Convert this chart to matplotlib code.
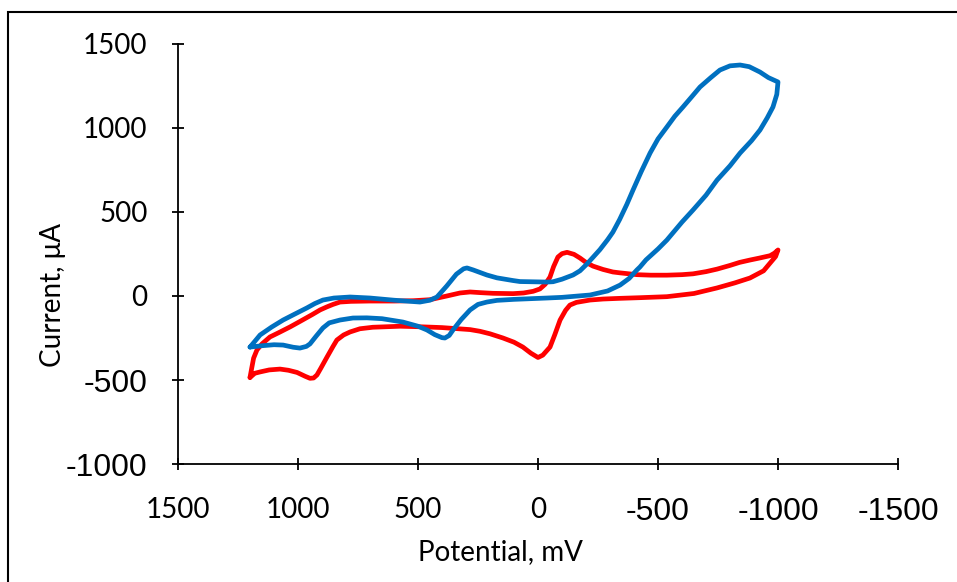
import matplotlib
matplotlib.use("Agg")
import matplotlib.pyplot as plt
from matplotlib.patches import Rectangle

# red voltammogram: lower branch 1200 -> -1000, then upper branch back to 1200
red_lower_E = [1200, 1180, 1158, 1120, 1075, 1040, 1004, 970, 950, 935, 921, 905, 879, 854, 838,
               810, 783, 742, 688, 575, 492, 400, 283, 242, 200, 146, 100, 63, 30, 0,
               -20, -50, -70, -92, -115, -133, -160, -217, -271, -340, -425, -537, -650,
               -746, -820, -883, -940, -967, -990, -1000]
red_lower_I = [-485, -460, -452, -440, -435, -442, -455, -478, -490, -488, -470, -430, -363, -300, -262,
               -232, -214, -195, -186, -180, -183, -188, -200, -210, -225, -250, -275, -304, -340, -366,
               -352, -304, -230, -143, -85, -54, -38, -24, -18, -14, -10, -4, 15,
               48, 78, 107, 150, 196, 235, 274]
red_upper_E = [-1000, -985, -967, -920, -883, -840, -800, -746, -700, -646, -600, -537, -470, -412,
               -340, -312, -271, -229, -200, -175, -150, -121, -100, -83, -65, -50, -30, -8, 20,
               60, 104, 188, 240, 283, 325, 380, 450, 520, 600, 700, 780, 825, 854, 880, 908,
               940, 990, 1033, 1080, 1117, 1150, 1171, 1185, 1192, 1200]
red_upper_I = [274, 255, 240, 225, 214, 200, 182, 160, 145, 132, 127, 124, 124, 127,
               138, 143, 158, 178, 200, 226, 248, 260, 252, 232, 175, 113, 70, 42, 28,
               18, 14, 16, 20, 24, 18, 0, -22, -28, -30, -30, -32, -36, -50, -65, -83,
               -110, -150, -184, -218, -244, -285, -321, -370, -423, -485]

# blue voltammogram: forward branch 1200 -> -1000, then return branch back to 1200
blue_fwd_E = [1200, 1180, 1158, 1110, 1062, 1010, 963, 930, 896, 850, 783, 700, 600, 492, 450,
              421, 380, 340, 310, 296, 270, 213, 171, 104, 75, -38, -63, -100, -146, -175,
              -200, -229, -258, -290, -312, -340, -370, -396, -430, -467, -500, -537, -570, -604,
              -640, -675, -720, -758, -800, -842, -880, -925, -960, -1000]
blue_fwd_I = [-304, -270, -232, -185, -143, -105, -71, -45, -24, -12, -6, -12, -25, -36, -25,
              -6, 60, 130, 162, 167, 155, 125, 108, 92, 86, 83, 85, 100, 125, 150,
              185, 230, 276, 335, 380, 455, 545, 631, 740, 851, 935, 1006, 1070, 1125,
              1185, 1244, 1300, 1345, 1370, 1375, 1365, 1333, 1300, 1274]
blue_ret_E = [-1000, -995, -979, -955, -925, -890, -842, -800, -746, -700, -646, -600, -537, -500,
              -450, -425, -412, -380, -342, -290, -217, -100, -38, 100, 171, 213, 250, 283,
              320, 354, 370, 388, 400, 430, 463, 500, 563, 650, 713, 771, 825, 870, 896,
              925, 950, 965, 992, 1020, 1062, 1100, 1150, 1200]
blue_ret_I = [1274, 1200, 1125, 1060, 988, 925, 851, 775, 690, 600, 512, 440, 333, 280,
              215, 173, 155, 105, 65, 30, 6, -8, -12, -20, -26, -36, -50, -83,
              -140, -202, -235, -250, -248, -230, -202, -180, -155, -135, -130, -131, -143, -160, -190,
              -240, -285, -300, -310, -305, -292, -290, -296, -304]

x_ticks = [1500, 1000, 500, 0, -500, -1000, -1500]
x_tick_labels = ["1500", "1000", "500", "0", "-500", "-1000", "-1500"]
y_ticks = [1500, 1000, 500, 0, -500, -1000]
y_tick_labels = ["1500", "1000", "500", "0", "-500", "-1000"]

fig = plt.figure(figsize=(9.57, 5.82), dpi=100)
ax = fig.add_axes([178 / 957, 118 / 582, 720 / 957, 420 / 582])

ax.plot(red_lower_E + red_upper_E, red_lower_I + red_upper_I, color="#FF0000", lw=3.4,
        solid_joinstyle="round", solid_capstyle="round")
ax.plot(blue_fwd_E + blue_ret_E, blue_fwd_I + blue_ret_I, color="#0070C0", lw=3.4,
        solid_joinstyle="round", solid_capstyle="round")

ax.set_xlim(1500, -1500)
ax.set_ylim(-1000, 1500)
ax.set_xticks(x_ticks)
ax.set_xticklabels(x_tick_labels)
ax.set_yticks(y_ticks)
ax.set_yticklabels(y_tick_labels)

for s in ["top", "right"]:
    ax.spines[s].set_visible(False)
for s in ["left", "bottom"]:
    ax.spines[s].set_linewidth(1.3)
ax.tick_params(direction="inout", length=8, width=1.3, pad=18)
ax.tick_params(axis="x", pad=20)

for lbl in ax.get_xticklabels() + ax.get_yticklabels():
    if lbl.get_text().startswith("-"):
        lbl.set_fontfamily("Liberation Sans")
        lbl.set_fontsize(23)
    else:
        lbl.set_fontfamily("Lato")
        lbl.set_fontsize(20)

ax.set_xlabel("Potential, mV", fontfamily="Lato", fontsize=20)
ax.set_ylabel("Current, \u03bcA", fontfamily="Lato", fontsize=20)
ax.xaxis.set_label_coords((500 - 178) / 720, (464 - 552) / 420)
ax.xaxis.label.set_va("center")
ax.yaxis.set_label_coords((53 - 178) / 720, (464 - 295) / 420)
ax.yaxis.label.set_va("center")

# chart frame (only left and top edges fall inside the image)
fig.patches.append(Rectangle((8 / 957, -0.1), 1.2, 1.1 - 12 / 582, transform=fig.transFigure,
                             fill=False, edgecolor="black", lw=1.5))

fig.savefig("out.png", dpi=100)
